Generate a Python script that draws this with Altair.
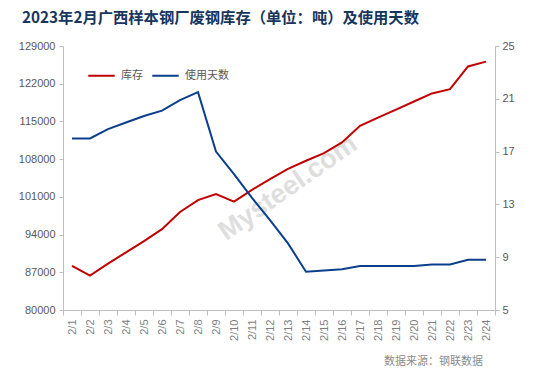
import altair as alt
import pandas as pd

dates = ["2/1", "2/2", "2/3", "2/4", "2/5", "2/6", "2/7", "2/8", "2/9", "2/10", "2/11", "2/12",
         "2/13", "2/14", "2/15", "2/16", "2/17", "2/18", "2/19", "2/20", "2/21", "2/22", "2/23", "2/24"]
inventory = [88200, 86400, 88600, 90700, 92800, 95000, 98200, 100400, 101500, 100100, 102300, 104300,
             106200, 107700, 109100, 111100, 114200, 115700, 117200, 118700, 120200, 121000, 125200, 126100]
days = [18.0, 18.0, 18.7, 19.2, 19.7, 20.1, 20.9, 21.5, 17.0, 15.3, 13.5, 11.8,
        10.05, 7.9, 8.0, 8.08, 8.33, 8.33, 8.33, 8.33, 8.45, 8.45, 8.8, 8.8]
series_names = ["库存", "使用天数"]
series_colors = ["#C00000", "#0B3F8C"]
left_ticks = [80000, 87000, 94000, 101000, 108000, 115000, 122000, 129000]
right_ticks = [5, 9, 13, 17, 21, 25]
title_text = "2023年2月广西样本钢厂废钢库存（单位：吨）及使用天数"
source_text = "数据来源：钢联数据"
watermark_text = "Mysteel.com"

df_inv = pd.DataFrame({"date": dates, "value": inventory, "series": series_names[0]})
df_days = pd.DataFrame({"date": dates, "value": days, "series": series_names[1]})

W, H = 432, 264

x_enc = alt.X(
    "date:N", sort=dates, bandPosition=0.5,
    scale=alt.Scale(type="band", paddingInner=0, paddingOuter=0),
    axis=alt.Axis(title=None, labelAngle=270, tickBand="extent", labelColor="#7F7F7F",
                  labelPadding=4, tickSize=5),
)
color_enc = alt.Color(
    "series:N",
    scale=alt.Scale(domain=series_names, range=series_colors),
    legend=alt.Legend(
        title=None, orient="none", legendX=24, legendY=15, direction="horizontal",
        symbolType="stroke", symbolSize=700, symbolStrokeWidth=2,
        labelFont="Noto Sans CJK SC", labelFontSize=11, labelColor="#595959",
        labelOffset=5, columnPadding=5,
    ),
)

inv_line = alt.Chart(df_inv).mark_line(strokeWidth=2).encode(
    x=x_enc,
    y=alt.Y("value:Q",
            scale=alt.Scale(domain=[80000, 129000], nice=False, zero=False),
            axis=alt.Axis(title=None, orient="left", values=left_ticks, format="d",
                          grid=False, tickSize=4, labelPadding=4)),
    color=color_enc,
)
days_line = alt.Chart(df_days).mark_line(strokeWidth=2).encode(
    x=x_enc,
    y=alt.Y("value:Q",
            scale=alt.Scale(domain=[5, 25], nice=False, zero=False),
            axis=alt.Axis(title=None, orient="right", values=right_ticks, format="d",
                          grid=False, tickSize=4, labelPadding=3)),
    color=color_enc,
)

watermark = alt.Chart(pd.DataFrame({"t": [watermark_text]})).mark_text(
    angle=325, font="Liberation Sans", fontSize=27, fontWeight="bold", color="#DEDEDE",
    align="center", baseline="middle",
).encode(x=alt.value(225), y=alt.value(142), text="t:N")

source = alt.Chart(pd.DataFrame({"t": [source_text]})).mark_text(
    font="Noto Sans CJK SC", fontSize=11, color="#8C8C8C", align="right", baseline="middle",
).encode(x=alt.value(420), y=alt.value(316), text="t:N")

chart = alt.layer(watermark, inv_line, days_line, source).resolve_scale(
    y="independent"
).properties(
    width=W, height=H,
    autosize=alt.AutoSizeParams(type="none"),
    padding={"left": 63, "top": 46, "right": 43, "bottom": 66},
    title=alt.TitleParams(
        text=title_text, anchor="start", frame="group", dx=-41, offset=14,
        font="Noto Sans CJK SC", fontSize=15.3, fontWeight="bold", color="#17365D",
    ),
).configure_view(stroke=None).configure_axis(
    domainColor="#BFBFBF", tickColor="#BFBFBF", labelColor="#595959",
    labelFont="Liberation Sans", labelFontSize=11,
)

chart.save("out.html", embed_options={"renderer": "svg", "actions": False})
